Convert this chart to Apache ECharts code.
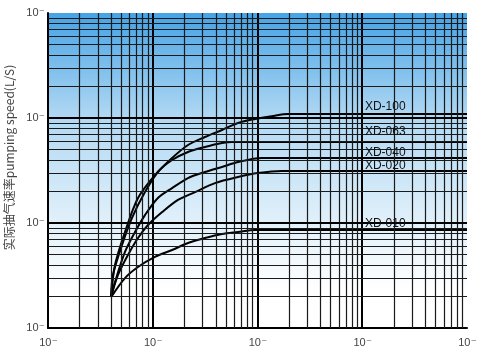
<!DOCTYPE html>
<html><head><meta charset="utf-8">
<script src="https://cdn.jsdelivr.net/npm/echarts@6/dist/echarts.min.js"></script>
<style>html,body{margin:0;padding:0;background:#fff}#c{width:483px;height:362px}</style>
</head><body><div id="c"></div>
<script>
// Curve data (pressure on x, pumping speed on y)
const names = ['XD-100', 'XD-063', 'XD-040', 'XD-020', 'XD-010'];
const x100 = [4, 4.36, 5.43, 7.23, 10.5, 15.3, 21.7, 31.5, 45.8, 65.1, 94.7, 137, 196, 10000];
const y100 = [1.97, 3.98, 8.21, 17.3, 28.6, 41.6, 55.3, 65.9, 76.9, 89.6, 97.8, 104, 109, 109];
const x063 = [4, 4.17, 5.09, 6.34, 8.43, 11.2, 15.3, 21.7, 31.5, 45.8, 57.1, 10000];
const y063 = [1.97, 3.2, 6.17, 11.2, 19.7, 30.6, 39.8, 47.5, 53.0, 57.8, 59.1, 59.1];
const x040 = [4, 4.36, 5.43, 6.77, 8.43, 11.2, 15.3, 21.7, 31.5, 45.8, 65.1, 110, 10000];
const y040 = [1.97, 2.74, 5.3, 8.21, 11.9, 17.3, 21.5, 26.8, 30.6, 34.2, 38.1, 41.6, 41.6];
const x020 = [4, 4.66, 5.8, 7.23, 9.01, 12.3, 17.4, 25.3, 39.3, 65.1, 101, 171, 284, 10000];
const y020 = [1.97, 3.2, 4.96, 7.2, 9.57, 12.7, 16.6, 19.7, 24.0, 27.4, 29.9, 31.3, 31.3, 31.3];
const x010 = [4, 5.43, 7.23, 10.5, 15.3, 21.7, 31.5, 45.8, 65.1, 94.7, 10000];
const y010 = [1.97, 2.99, 3.81, 4.75, 5.53, 6.45, 7.2, 7.86, 8.21, 8.58, 8.58];

const xDecades = [1, 10, 100, 1000, 10000];
const yDecades = [1, 10, 100, 1000];
const minorSteps = [2, 3, 4, 5, 6, 7, 8, 9];
const yTitle = '实际抽气速率pumping speed(L/S)';
const tickBase = '10';
const tickSup = '\u2013';

const xs = [x100, x063, x040, x020, x010];
const ys = [y100, y063, y040, y020, y010];
const labelOffsets = [-7, -10, -5, -5, -6];

function gridLines(decades, key) {
  const out = [];
  for (let i = 0; i < decades.length - 1; i++) {
    if (i > 0) out.push({ [key]: decades[i], lineStyle: { color: '#000', width: 2, type: 'solid' } });
    minorSteps.forEach(m => out.push({ [key]: decades[i] * m, lineStyle: { color: '#1a1a1a', width: 1.2, type: 'solid' } }));
  }
  return out;
}

const labelFmt = () => '{b|' + tickBase + '}{s|' + tickSup + '}';
const rich = {
  b: { fontSize: 11, color: '#444', fontFamily: 'Liberation Sans' },
  s: { fontSize: 8, color: '#444', fontFamily: 'Liberation Sans', padding: [0, 0, 6, 1] }
};

const series = [{
  type: 'line', data: [], silent: true, z: 1,
  markLine: {
    silent: true, symbol: ['none', 'none'], label: { show: false }, animation: false,
    data: gridLines(xDecades, 'xAxis').concat(gridLines(yDecades, 'yAxis'))
  }
}];
names.forEach((n, i) => {
  const d = xs[i].map((x, j) => [x, ys[i][j]]);
  series.push({
    name: n, type: 'line', data: d, showSymbol: false, smooth: 0.3, z: 3,
    lineStyle: { color: '#000', width: 2 },
    markPoint: {
      symbol: 'circle', symbolSize: 0, animation: false,
      data: [{ coord: [1060, ys[i][ys[i].length - 1]] }],
      label: { show: true, position: 'right', distance: 0, offset: [0, labelOffsets[i]],
        formatter: n, color: '#111', fontSize: 12, fontFamily: 'Liberation Sans' }
    }
  });
});

const chart = echarts.init(document.getElementById('c'));
chart.setOption({
  animation: false,
  backgroundColor: '#fff',
  grid: {
    left: 48, right: 16, top: 13, bottom: 34, show: true, borderWidth: 0,
    containLabel: false, outerBoundsMode: 'none',
    backgroundColor: { type: 'linear', x: 0, y: 0, x2: 0, y2: 1, colorStops: [
      { offset: 0, color: '#45a3e5' },
      { offset: 0.12, color: '#6db6ea' },
      { offset: 0.33, color: '#b1d8f3' },
      { offset: 0.66, color: '#e0f0fa' },
      { offset: 0.88, color: '#ffffff' },
      { offset: 1, color: '#ffffff' }
    ] }
  },
  xAxis: {
    type: 'log', logBase: 10, min: 1, max: 10000,
    axisLine: { lineStyle: { color: '#000', width: 2 } },
    axisTick: { show: false }, splitLine: { show: false },
    axisLabel: { formatter: labelFmt, rich: rich, margin: 8 }
  },
  yAxis: {
    type: 'log', logBase: 10, min: 1, max: 1000,
    axisLine: { show: true, lineStyle: { color: '#000', width: 2 } },
    axisTick: { show: false }, splitLine: { show: false },
    axisLabel: { formatter: labelFmt, rich: rich, margin: 4 },
    name: yTitle, nameLocation: 'middle', nameRotate: 90, nameGap: 33,
    nameTextStyle: { fontSize: 12, color: '#444', fontFamily: 'Noto Sans CJK SC', padding: [0, 0, 0, 26] }
  },
  series: series
});
</script></body></html>
